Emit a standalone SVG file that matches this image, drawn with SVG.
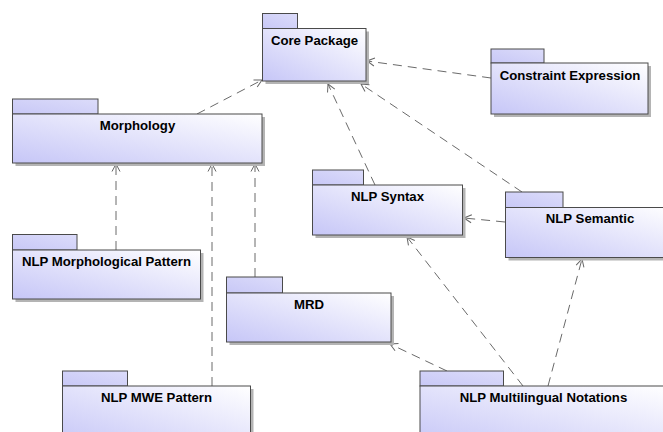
<svg xmlns="http://www.w3.org/2000/svg" width="663" height="432" viewBox="0 0 663 432">
<defs>
<linearGradient id="g" x1="0" y1="1" x2="1" y2="0">
<stop offset="0" stop-color="#c6c6f7"/>
<stop offset="1" stop-color="#ffffff"/>
</linearGradient>
<linearGradient id="gt" x1="0" y1="1" x2="1" y2="0">
<stop offset="0" stop-color="#c8c8f6"/>
<stop offset="1" stop-color="#dcdcfa"/>
</linearGradient>
<marker id="arr" markerWidth="10" markerHeight="10" refX="9" refY="5" orient="auto" markerUnits="userSpaceOnUse">
<path d="M1.5,1 L9,5 L1.5,9" fill="none" stroke="#666" stroke-width="1"/>
</marker>
<style>
.sh{fill:#b4b4b4}
.tab{fill:url(#gt);stroke:#4a4a4a;stroke-width:1}
.body{fill:url(#g);stroke:#4a4a4a;stroke-width:1}
.lbl{font-family:"Liberation Sans",Arial,sans-serif;font-weight:bold;font-size:13.2px;fill:#000;text-anchor:middle}
.dep{fill:none;stroke:#6a6a6a;stroke-width:1;stroke-dasharray:9,6;marker-end:url(#arr)}
</style>
</defs>
<rect width="663" height="432" fill="#ffffff"/>

<g id="connectors">
<line class="dep" x1="491" y1="78" x2="367" y2="61"/>
<line class="dep" x1="197" y1="114" x2="262" y2="80"/>
<line class="dep" x1="375" y1="185" x2="328" y2="84"/>
<line class="dep" x1="522" y1="192" x2="361" y2="84"/>
<line class="dep" x1="505" y1="222" x2="464" y2="218"/>
<line class="dep" x1="523" y1="386" x2="407" y2="237"/>
<line class="dep" x1="548" y1="386" x2="582" y2="259"/>
<line class="dep" x1="447" y1="371" x2="390" y2="344"/>
<line class="dep" x1="116" y1="250" x2="116" y2="164"/>
<line class="dep" x1="212" y1="386" x2="212" y2="164"/>
<line class="dep" x1="255" y1="277" x2="255" y2="164"/>
</g>

<g id="core-package">
<rect class="sh" x="265.5" y="31.5" width="103.5" height="52.5"/>
<rect class="tab" x="262.5" y="13.5" width="35" height="15"/>
<rect class="body" x="262.5" y="28.5" width="103.5" height="52.5"/>
<text class="lbl" x="314.5" y="44.5">Core Package</text>
</g>

<g id="constraint-expression">
<rect class="sh" x="494" y="66" width="157" height="51"/>
<rect class="tab" x="491" y="49" width="53" height="14"/>
<rect class="body" x="491" y="63" width="157" height="51"/>
<text class="lbl" x="570" y="80">Constraint Expression</text>
</g>

<g id="morphology">
<rect class="sh" x="15.5" y="117" width="249.5" height="49"/>
<rect class="tab" x="12.5" y="99" width="85.5" height="15"/>
<rect class="body" x="12.5" y="114" width="249.5" height="49"/>
<text class="lbl" x="137.5" y="130">Morphology</text>
</g>

<g id="nlp-morphological-pattern">
<rect class="sh" x="15.5" y="253" width="188" height="49"/>
<rect class="tab" x="12.5" y="234.5" width="64.5" height="15.5"/>
<rect class="body" x="12.5" y="250" width="188" height="49"/>
<text class="lbl" x="106.5" y="265.5">NLP Morphological Pattern</text>
</g>

<g id="nlp-syntax">
<rect class="sh" x="315.5" y="188" width="150" height="50"/>
<rect class="tab" x="312.5" y="170" width="51" height="15"/>
<rect class="body" x="312.5" y="185" width="150" height="50"/>
<text class="lbl" x="387.5" y="201">NLP Syntax</text>
</g>

<g id="nlp-semantic">
<rect class="sh" x="508.5" y="210.5" width="170" height="50"/>
<rect class="tab" x="505.5" y="192" width="57.5" height="15.5"/>
<rect class="body" x="505.5" y="207.5" width="170" height="50"/>
<text class="lbl" x="590" y="222.5">NLP Semantic</text>
</g>

<g id="mrd">
<rect class="sh" x="229.5" y="296" width="164.5" height="49"/>
<rect class="tab" x="226.5" y="277" width="56" height="16"/>
<rect class="body" x="226.5" y="293" width="164.5" height="49"/>
<text class="lbl" x="309" y="308.5">MRD</text>
</g>

<g id="nlp-mwe-pattern">
<rect class="sh" x="65.5" y="389" width="188" height="60"/>
<rect class="tab" x="62.5" y="371" width="65" height="15"/>
<rect class="body" x="62.5" y="386" width="188" height="60"/>
<text class="lbl" x="156.5" y="401.5">NLP MWE Pattern</text>
</g>

<g id="nlp-multilingual-notations">
<rect class="sh" x="423" y="389" width="247" height="60"/>
<rect class="tab" x="420" y="371" width="83.5" height="15"/>
<rect class="body" x="420" y="386" width="247" height="60"/>
<text class="lbl" x="543.5" y="401.5">NLP Multilingual Notations</text>
</g>
</svg>
